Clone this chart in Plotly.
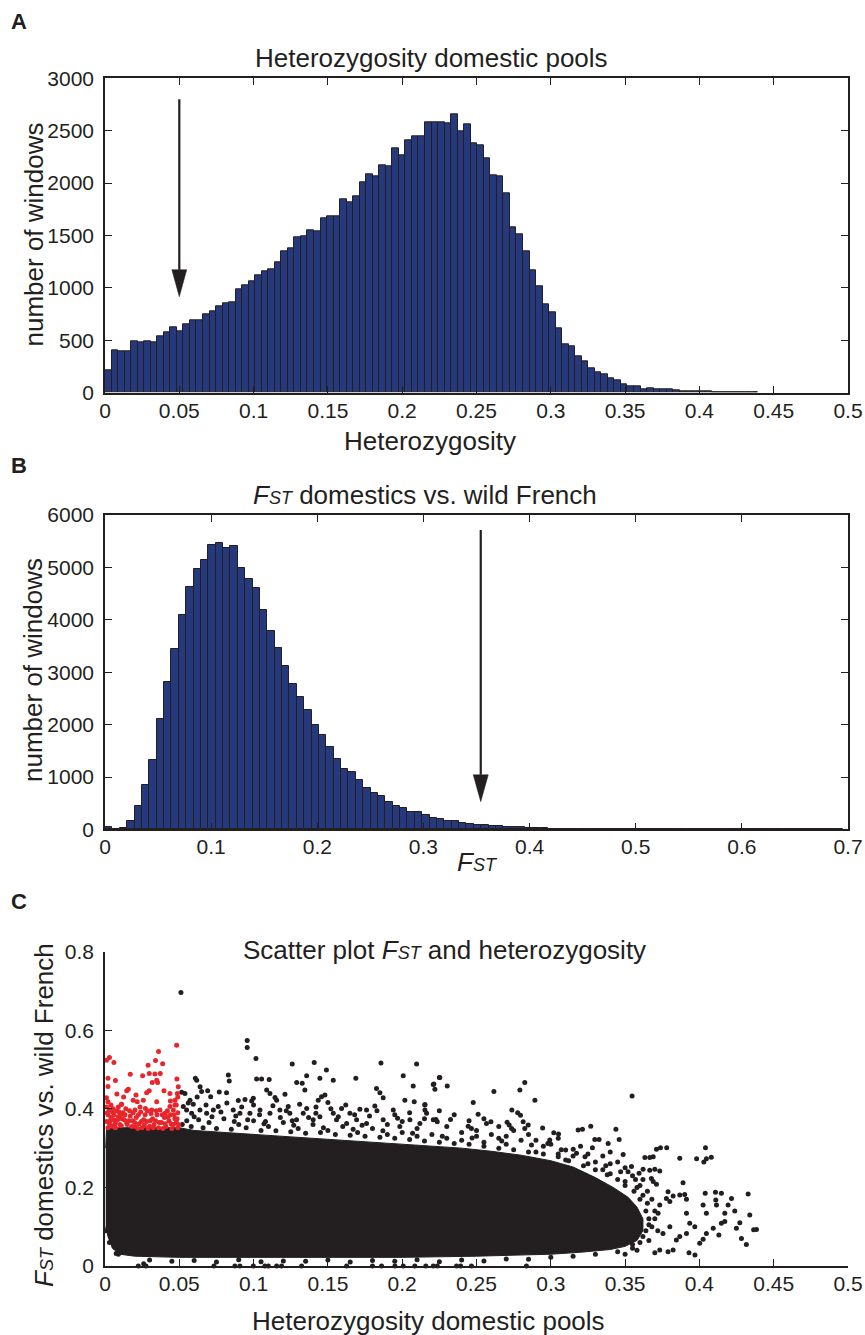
import plotly.graph_objects as go

W, H = 865, 1335
INK = "#231f20"
BAR = "#25397c"
RED = "#e8252b"
FONT = "Liberation Sans, Arial, Helvetica, sans-serif"

# ---- Panel A: heterozygosity of domestic pools (100 bins) ----
het_max = 0.4395
het_counts = [
    210, 404, 395, 398, 490, 481, 493, 481, 541, 576,
    627, 583, 656, 691, 688, 748, 773, 821, 853, 866,
    987, 1025, 1060, 1120, 1157, 1177, 1244, 1349, 1378, 1483,
    1489, 1550, 1543, 1664, 1683, 1680, 1845, 1814, 1871, 2011,
    2084, 2068, 2173, 2161, 2332, 2262, 2406, 2450, 2450, 2581,
    2584, 2581, 2571, 2660, 2495, 2565, 2380, 2358, 2234, 2072,
    2062, 1903, 1582, 1512, 1346, 1171, 1012, 840, 764, 614,
    462, 446, 350, 302, 232, 191, 178, 134, 116, 78,
    65, 59, 36, 43, 30, 30, 31, 22, 18, 13,
    15, 12, 10, 8, 7, 6, 5, 4, 3, 2,
]
het_ticks = [0, 0.05, 0.1, 0.15, 0.2, 0.25, 0.3, 0.35, 0.4, 0.45, 0.5]
het_ticklabels = ["0", "0.05", "0.1", "0.15", "0.2", "0.25", "0.3", "0.35", "0.4", "0.45", "0.5"]
count_ticks_a = [0, 500, 1000, 1500, 2000, 2500, 3000]

# ---- Panel B: FST domestics vs. wild French (100 bins) ----
fst_max = 0.695
fst_counts = [
    50, 14, 30, 157, 446, 854, 1331, 2107, 2813, 3443,
    4092, 4620, 4976, 5135, 5421, 5472, 5364, 5409, 4983, 4779,
    4601, 4194, 3787, 3456, 3112, 2775, 2534, 2273, 2000, 1796,
    1573, 1350, 1153, 1090, 950, 784, 692, 632, 528, 445,
    407, 337, 325, 270, 223, 194, 159, 153, 115, 95,
    76, 76, 64, 57, 45, 38, 38, 32, 25, 19,
    16, 13, 10, 9, 8, 7, 6, 5, 5, 4,
    4, 3, 3, 3, 3, 2, 2, 2, 2, 2,
    2, 2, 1, 1, 1, 1, 1, 1, 1, 1,
    1, 1, 1, 1, 1, 1, 1, 1, 1, 1,
]
fst_ticks = [0, 0.1, 0.2, 0.3, 0.4, 0.5, 0.6, 0.7]
fst_ticklabels = ["0", "0.1", "0.2", "0.3", "0.4", "0.5", "0.6", "0.7"]
count_ticks_b = [0, 1000, 2000, 3000, 4000, 5000, 6000]

# arrows marking thresholds: (x, start count, head base count, tip count)
arrow_a = (0.05, 2800, 1174, 916)
arrow_b = (0.354, 5716, 1042, 529)

# ---- Panel C: heterozygosity vs FST ----
# outline of the saturated core of the cloud (heterozygosity, FST)
core_outline = [
    (0.0005, 0.30), (0.001, 0.35), (0.01, 0.352), (0.03, 0.352), (0.05, 0.352),
    (0.06, 0.345), (0.08, 0.34), (0.10, 0.335), (0.12, 0.33), (0.14, 0.325),
    (0.16, 0.32), (0.18, 0.315), (0.20, 0.31), (0.22, 0.305), (0.24, 0.30),
    (0.26, 0.292), (0.28, 0.282), (0.30, 0.268), (0.315, 0.252), (0.33, 0.225),
    (0.342, 0.20), (0.352, 0.175), (0.358, 0.15), (0.362, 0.12), (0.362, 0.09),
    (0.358, 0.065), (0.35, 0.05), (0.34, 0.042), (0.32, 0.035), (0.30, 0.03),
    (0.25, 0.025), (0.20, 0.022), (0.15, 0.022), (0.10, 0.022), (0.05, 0.022),
    (0.02, 0.025), (0.01, 0.03), (0.005, 0.045), (0.002, 0.075), (0.0005, 0.10),
]

# individual windows outside the saturated core
black_points = [
    (0.0511, 0.696), (0.0957, 0.574), (0.0957, 0.556), (0.1016, 0.528), (0.126, 0.514),
    (0.1408, 0.518), (0.149, 0.499), (0.1446, 0.478), (0.1536, 0.473), (0.1688, 0.478),
    (0.1857, 0.517), (0.2007, 0.484), (0.2097, 0.514), (0.2074, 0.458), (0.2209, 0.462),
    (0.222, 0.45), (0.225, 0.48), (0.1357, 0.484), (0.129, 0.467), (0.1327, 0.465),
    (0.1345, 0.448), (0.1435, 0.422), (0.1457, 0.431), (0.148, 0.435), (0.15, 0.416),
    (0.1827, 0.452), (0.185, 0.441), (0.1872, 0.428), (0.2018, 0.422), (0.2081, 0.418),
    (0.2153, 0.411), (0.0608, 0.478), (0.0617, 0.473), (0.064, 0.456), (0.065, 0.444),
    (0.0691, 0.446), (0.0711, 0.431), (0.0769, 0.443), (0.0818, 0.441), (0.083, 0.486),
    (0.0836, 0.471), (0.0897, 0.421), (0.0942, 0.424), (0.0987, 0.42), (0.0998, 0.427),
    (0.102, 0.476), (0.1054, 0.476), (0.1105, 0.475), (0.1088, 0.448), (0.111, 0.439),
    (0.1144, 0.429), (0.1155, 0.422), (0.1211, 0.437), (0.1233, 0.406), (0.1357, 0.401),
    (0.1419, 0.389), (0.1536, 0.389), (0.1592, 0.401), (0.1648, 0.389), (0.1715, 0.399),
    (0.176, 0.397), (0.1816, 0.407), (0.194, 0.397), (0.1969, 0.376), (0.2052, 0.372),
    (0.2164, 0.389), (0.0516, 0.442), (0.0538, 0.439), (0.0572, 0.422), (0.0527, 0.406),
    (0.0549, 0.397), (0.0594, 0.412), (0.0583, 0.389), (0.0639, 0.397), (0.0684, 0.389),
    (0.0729, 0.397), (0.0762, 0.406), (0.0863, 0.397), (0.0908, 0.389), (0.0975, 0.389),
    (0.1043, 0.397), (0.111, 0.389), (0.1177, 0.397), (0.1244, 0.389), (0.1289, 0.372),
    (0.1334, 0.389), (0.1401, 0.372), (0.1446, 0.38), (0.1558, 0.372), (0.1626, 0.363),
    (0.1693, 0.372), (0.176, 0.363), (0.1872, 0.372), (0.1984, 0.355), (0.2119, 0.363),
    (0.2209, 0.372), (0.2253, 0.48), (0.2213, 0.463), (0.2303, 0.458), (0.2152, 0.41),
    (0.2153, 0.397), (0.2478, 0.416), (0.2617, 0.444), (0.2792, 0.448), (0.2825, 0.467),
    (0.2893, 0.422), (0.3547, 0.433), (0.2511, 0.386), (0.2567, 0.363), (0.2597, 0.367),
    (0.2738, 0.397), (0.2777, 0.39), (0.2796, 0.384), (0.2227, 0.373), (0.2236, 0.367),
    (0.2325, 0.373), (0.2444, 0.356), (0.2466, 0.35), (0.2706, 0.366), (0.272, 0.359),
    (0.2736, 0.35), (0.2814, 0.367), (0.2848, 0.359), (0.2825, 0.35), (0.2945, 0.351),
    (0.302, 0.339), (0.3052, 0.336), (0.298, 0.312), (0.2993, 0.321), (0.3184, 0.346),
    (0.3213, 0.348), (0.3269, 0.356), (0.3296, 0.322), (0.3325, 0.322), (0.3386, 0.312),
    (0.3438, 0.348), (0.346, 0.322), (0.328, 0.301), (0.3151, 0.297), (0.3173, 0.287),
    (0.3487, 0.284), (0.3543, 0.253), (0.3594, 0.236), (0.3621, 0.246), (0.3633, 0.276),
    (0.3666, 0.276), (0.3689, 0.278), (0.3711, 0.297), (0.3738, 0.301), (0.378, 0.301),
    (0.3868, 0.274), (0.3981, 0.273), (0.4041, 0.301), (0.403, 0.265), (0.4047, 0.273),
    (0.408, 0.277), (0.3666, 0.244), (0.37, 0.246), (0.3733, 0.242), (0.3677, 0.223),
    (0.3689, 0.215), (0.3711, 0.208), (0.389, 0.212), (0.3789, 0.189), (0.3778, 0.172),
    (0.3801, 0.164), (0.3823, 0.178), (0.3868, 0.181), (0.3901, 0.182), (0.3913, 0.17),
    (0.4039, 0.185), (0.4108, 0.1875), (0.4148, 0.185), (0.4328, 0.183), (0.4216, 0.172),
    (0.4025, 0.155), (0.4047, 0.134), (0.411, 0.168), (0.4115, 0.155), (0.4171, 0.134),
    (0.4193, 0.155), (0.4238, 0.14), (0.4339, 0.13), (0.4384, 0.093), (0.4365, 0.092),
    (0.4272, 0.11), (0.4249, 0.096), (0.4283, 0.07), (0.4316, 0.055), (0.4148, 0.109),
    (0.4171, 0.113), (0.4131, 0.079), (0.4093, 0.096), (0.4047, 0.083), (0.4025, 0.068),
    (0.4002, 0.058), (0.3913, 0.134), (0.3935, 0.109), (0.3969, 0.1), (0.3913, 0.083),
    (0.3868, 0.075), (0.3845, 0.066), (0.3823, 0.041), (0.3789, 0.036), (0.3733, 0.041),
    (0.37, 0.034), (0.393, 0.034), (0.397, 0.028), (0.3801, 0.1), (0.3755, 0.083),
    (0.3722, 0.134), (0.3733, 0.155), (0.358, 0.2), (0.362, 0.18), (0.365, 0.16),
    (0.366, 0.12), (0.364, 0.09), (0.36, 0.06), (0.368, 0.1), (0.37, 0.14),
    (0.362, 0.22), (0.355, 0.045), (0.345, 0.036), (0.31, 0.27), (0.325, 0.26),
    (0.335, 0.245), (0.34, 0.235), (0.35, 0.215), (0.305, 0.285), (0.29, 0.29),
    (0.27, 0.31), (0.255, 0.315), (0.24, 0.32), (0.23, 0.325), (0.21, 0.33),
    (0.19, 0.335), (0.17, 0.34), (0.15, 0.345), (0.13, 0.35), (0.11, 0.355),
    (0.09, 0.36), (0.07, 0.365), (0.055, 0.37), (0.06, 0.38), (0.08, 0.375),
    (0.1, 0.37), (0.12, 0.365), (0.14, 0.36), (0.16, 0.355), (0.18, 0.35),
    (0.2, 0.34), (0.22, 0.335), (0.25, 0.33), (0.265, 0.325), (0.28, 0.32),
    (0.295, 0.305), (0.315, 0.28), (0.33, 0.265), (0.34, 0.26), (0.352, 0.24),
    (0.357, 0.22),
    (0.052, 0.36), (0.058, 0.355), (0.066, 0.352), (0.075, 0.35), (0.085, 0.348),
    (0.095, 0.352), (0.105, 0.345), (0.115, 0.344), (0.125, 0.342), (0.135, 0.338),
    (0.145, 0.34), (0.155, 0.335), (0.165, 0.333), (0.175, 0.33), (0.185, 0.328),
    (0.195, 0.325), (0.205, 0.322), (0.215, 0.318), (0.225, 0.315), (0.235, 0.312),
    (0.245, 0.31), (0.255, 0.305), (0.265, 0.30), (0.275, 0.296), (0.285, 0.29),
    (0.295, 0.285), (0.305, 0.278), (0.312, 0.268), (0.322, 0.255), (0.33, 0.245),
    (0.338, 0.232), (0.345, 0.22), (0.35, 0.205), (0.356, 0.19), (0.36, 0.17),
    (0.364, 0.14), (0.366, 0.105), (0.362, 0.075), (0.355, 0.055),
    (0.063, 0.372), (0.087, 0.368), (0.107, 0.362), (0.127, 0.358), (0.147, 0.352),
    (0.167, 0.348), (0.187, 0.344), (0.207, 0.338), (0.227, 0.33), (0.247, 0.326),
    (0.267, 0.318), (0.287, 0.308), (0.307, 0.296), (0.323, 0.278), (0.337, 0.255),
    (0.347, 0.24),
    (0.056, 0.415), (0.062, 0.43), (0.068, 0.41), (0.072, 0.38), (0.078, 0.392),
    (0.082, 0.415), (0.088, 0.382), (0.092, 0.405), (0.096, 0.372), (0.10, 0.41),
    (0.104, 0.385), (0.108, 0.368), (0.113, 0.408), (0.118, 0.378), (0.122, 0.395),
    (0.126, 0.37), (0.131, 0.412), (0.137, 0.378), (0.142, 0.405), (0.152, 0.40),
    (0.157, 0.38), (0.162, 0.41), (0.168, 0.385), (0.173, 0.358), (0.178, 0.382),
    (0.183, 0.395), (0.19, 0.36), (0.195, 0.385), (0.20, 0.368), (0.205, 0.39),
    (0.21, 0.35), (0.215, 0.375), (0.225, 0.395), (0.23, 0.355), (0.235, 0.385),
    (0.24, 0.34), (0.245, 0.37), (0.25, 0.345), (0.255, 0.375), (0.26, 0.335),
    (0.265, 0.355), (0.27, 0.33), (0.275, 0.345), (0.285, 0.335), (0.29, 0.32),
    (0.30, 0.31), (0.305, 0.325), (0.31, 0.295), (0.32, 0.305), (0.325, 0.285),
    (0.335, 0.28), (0.34, 0.29), (0.345, 0.265), (0.35, 0.25), (0.355, 0.23),
    (0.36, 0.205), (0.365, 0.19), (0.368, 0.17), (0.37, 0.12), (0.372, 0.09),
    (0.366, 0.065), (0.358, 0.04), (0.35, 0.03),
    (0.03, 0.015), (0.06, 0.014), (0.09, 0.016), (0.12, 0.013), (0.15, 0.015),
    (0.18, 0.014), (0.21, 0.016), (0.24, 0.015), (0.27, 0.018), (0.30, 0.022),
    (0.33, 0.03), (0.045, 0.012), (0.075, 0.01), (0.105, 0.011), (0.135, 0.012),
    (0.165, 0.01), (0.195, 0.012), (0.225, 0.011), (0.255, 0.013), (0.285, 0.017),
    (0.315, 0.025),
    (0.0224, 0.0), (0.0276, 0.0), (0.0733, 0.0), (0.0874, 0.0), (0.0908, 0.0),
    (0.0998, 0.0), (0.1076, 0.0), (0.1099, 0.0), (0.1155, 0.0), (0.1188, 0.0),
    (0.1323, 0.0), (0.1626, 0.0), (0.180, 0.0), (0.1861, 0.0), (0.1951, 0.0),
    (0.2007, 0.0), (0.2085, 0.0), (0.2209, 0.0), (0.2159, 0.0), (0.2236, 0.0),
    (0.2366, 0.0), (0.2393, 0.0), (0.2466, 0.0), (0.2836, 0.0),
    (0.026, 0.006), (0.0075, 0.032), (0.009, 0.03), (0.0005, 0.09), (0.003, 0.06),
]

# windows with low heterozygosity and high FST (highlighted)
red_points = [
    (0.001, 0.524), (0.003, 0.531), (0.006, 0.518), (0.002, 0.478), (0.007, 0.472),
    (0.002, 0.457), (0.008, 0.438), (0.001, 0.428), (0.002, 0.418), (0.001, 0.405),
    (0.003, 0.398), (0.005, 0.392), (0.002, 0.385), (0.004, 0.378), (0.006, 0.372),
    (0.001, 0.368), (0.003, 0.362), (0.005, 0.356), (0.007, 0.352), (0.002, 0.352),
    (0.008, 0.395), (0.009, 0.38), (0.007, 0.365), (0.010, 0.360), (0.006, 0.385),
    (0.004, 0.41), (0.009, 0.405), (0.011, 0.412), (0.012, 0.39), (0.013, 0.372),
    (0.011, 0.357), (0.017, 0.488), (0.0157, 0.45), (0.0146, 0.446), (0.0209, 0.435),
    (0.0253, 0.484), (0.0298, 0.49), (0.029, 0.511), (0.034, 0.523), (0.036, 0.546),
    (0.0388, 0.515), (0.0372, 0.49), (0.0336, 0.489), (0.0318, 0.467), (0.0348, 0.473),
    (0.0354, 0.467), (0.0397, 0.446), (0.0437, 0.439), (0.0482, 0.562), (0.0484, 0.476),
    (0.0493, 0.456), (0.0487, 0.439), (0.0471, 0.422), (0.028, 0.441), (0.0298, 0.446),
    (0.0258, 0.422), (0.0217, 0.418), (0.019, 0.422), (0.0202, 0.397), (0.0236, 0.405),
    (0.0272, 0.401), (0.0314, 0.397), (0.0348, 0.418), (0.037, 0.397), (0.0404, 0.389),
    (0.0437, 0.406), (0.046, 0.397), (0.0112, 0.412), (0.016, 0.37), (0.018, 0.355),
    (0.021, 0.378), (0.023, 0.362), (0.025, 0.352), (0.027, 0.385), (0.028, 0.368),
    (0.030, 0.356), (0.032, 0.375), (0.033, 0.36), (0.035, 0.385), (0.036, 0.352),
    (0.038, 0.365), (0.040, 0.378), (0.041, 0.355), (0.043, 0.37), (0.044, 0.385),
    (0.046, 0.36), (0.047, 0.375), (0.049, 0.352), (0.049, 0.39), (0.019, 0.39),
    (0.024, 0.392), (0.031, 0.388), (0.042, 0.395), (0.015, 0.36), (0.022, 0.35),
    (0.029, 0.35), (0.034, 0.37), (0.045, 0.35), (0.048, 0.365), (0.039, 0.35),
    (0.026, 0.372), (0.020, 0.365), (0.017, 0.382), (0.047, 0.41), (0.044, 0.42),
    (0.049, 0.43), (0.048, 0.41), (0.0125, 0.43), (0.014, 0.40),
    (0.0015, 0.39), (0.0035, 0.37), (0.0055, 0.40), (0.0065, 0.36), (0.0085, 0.372),
    (0.0095, 0.392), (0.0105, 0.385), (0.0115, 0.375), (0.0135, 0.385), (0.0145, 0.365),
    (0.0165, 0.395), (0.0185, 0.37), (0.0205, 0.355), (0.0225, 0.385), (0.0245, 0.368),
    (0.0265, 0.358), (0.0285, 0.395), (0.0305, 0.37), (0.0325, 0.352), (0.0345, 0.395),
    (0.0365, 0.365), (0.0385, 0.385), (0.0405, 0.362), (0.0425, 0.38), (0.0445, 0.362),
    (0.0465, 0.385), (0.0485, 0.375), (0.0495, 0.36),
]
scatter_x_ticks = het_ticks
scatter_y_ticks = [0, 0.2, 0.4, 0.6, 0.8]
scatter_y_labels = ["0", "0.2", "0.4", "0.6", "0.8"]


def px_x(px):
    return px / W


def px_y(py):
    return 1 - py / H


def bin_centers(vmax, n):
    w = vmax / n
    return [(i + 0.5) * w for i in range(n)], w


fig = go.Figure()

hx, hw = bin_centers(het_max, len(het_counts))
fig.add_trace(go.Bar(x=hx, y=het_counts, width=hw, xaxis="x", yaxis="y",
                     marker=dict(color=BAR, line=dict(color=INK, width=1))))

fx, fw = bin_centers(fst_max, len(fst_counts))
fig.add_trace(go.Bar(x=fx, y=fst_counts, width=fw, xaxis="x2", yaxis="y2",
                     marker=dict(color=BAR, line=dict(color=INK, width=1))))

cx = [p[0] for p in core_outline]
cy = [p[1] for p in core_outline]
fig.add_trace(go.Scatter(x=cx, y=cy, fill="toself", fillcolor=INK, mode="lines",
                         line=dict(color=INK, width=1), xaxis="x3", yaxis="y3",
                         hoverinfo="skip"))
fig.add_trace(go.Scatter(x=[p[0] for p in black_points], y=[p[1] for p in black_points],
                         mode="markers", marker=dict(color=INK, size=5, line=dict(width=0)),
                         xaxis="x3", yaxis="y3", cliponaxis=False))
fig.add_trace(go.Scatter(x=[p[0] for p in red_points], y=[p[1] for p in red_points],
                         mode="markers", marker=dict(color=RED, size=5, line=dict(width=0)),
                         xaxis="x3", yaxis="y3", cliponaxis=False))

tickfont = dict(family=FONT, size=21, color=INK)
dom_x = [px_x(105), px_x(848)]
common = dict(ticks="inside", ticklen=7, tickwidth=1.2, tickcolor=INK, showline=True,
              linecolor=INK, linewidth=1.5, showgrid=False, zeroline=False,
              tickfont=tickfont, automargin=False)
xcommon = dict(ticklabelstandoff=-2, **common)
ycommon = dict(ticklabelstandoff=5, **common)

fig.update_layout(
    width=W, height=H, margin=dict(l=0, r=0, t=0, b=0, autoexpand=False),
    paper_bgcolor="white", plot_bgcolor="white", showlegend=False, bargap=0,
    font=dict(family=FONT, color=INK),
    xaxis=dict(domain=dom_x, range=[0, 0.5], tickvals=het_ticks, ticktext=het_ticklabels,
               anchor="y", mirror="ticks", **xcommon),
    yaxis=dict(domain=[px_y(392.7), px_y(78.3)], range=[0, 3000], tickvals=count_ticks_a,
               anchor="x", mirror="ticks", **ycommon),
    xaxis2=dict(domain=dom_x, range=[0, 0.7], tickvals=fst_ticks, ticktext=fst_ticklabels,
                anchor="y2", mirror="ticks", **xcommon),
    yaxis2=dict(domain=[px_y(829.4), px_y(515)], range=[0, 6000], tickvals=count_ticks_b,
                anchor="x2", mirror="ticks", **ycommon),
    xaxis3=dict(domain=dom_x, range=[0, 0.5], tickvals=scatter_x_ticks, ticktext=het_ticklabels,
                anchor="y3", mirror=False, **xcommon),
    yaxis3=dict(domain=[px_y(1266), px_y(951.7)], range=[0, 0.8], tickvals=scatter_y_ticks,
                ticktext=scatter_y_labels, anchor="x3", mirror=False, **ycommon),
)


def arrow(ax, ay, x, y_start, y_base, y_tip, half_w):
    fig.add_shape(type="line", xref=ax, yref=ay, x0=x, x1=x, y0=y_start, y1=y_base,
                  line=dict(color=INK, width=2.2))
    fig.add_shape(type="path", xref=ax, yref=ay,
                  path=f"M {x - half_w},{y_base} L {x + half_w},{y_base} L {x},{y_tip} Z",
                  fillcolor=INK, line=dict(color=INK, width=0.5))


arrow("x", "y", arrow_a[0], arrow_a[1], arrow_a[2], arrow_a[3], 0.005)
arrow("x2", "y2", arrow_b[0], arrow_b[1], arrow_b[2], arrow_b[3], 0.0071)

FST = '<i>F</i><span style="font-size:18px"><i>ST</i></span>'


def label(text, x, y, size=26, xanchor="center", angle=0, bold=False):
    fig.add_annotation(text=f"<b>{text}</b>" if bold else text, xref="paper", yref="paper",
                       x=px_x(x), y=px_y(y), xanchor=xanchor, yanchor="middle",
                       textangle=angle, showarrow=False,
                       font=dict(family=FONT, size=size, color=INK))


# panel letters
label("A", 9, 22, size=22, xanchor="left", bold=True)
label("B", 9, 466, size=22, xanchor="left", bold=True)
label("C", 9, 901, size=22, xanchor="left", bold=True)

# titles
label("Heterozygosity domestic pools", 253, 58, xanchor="left")
label(f"{FST} domestics vs. wild French", 251, 495, xanchor="left")
label(f"Scatter plot {FST} and heterozygosity", 241, 950, xanchor="left")

# axis titles
label("Heterozygosity", 429.5, 441)
label(FST, 478, 862)
label("Heterozygosity domestic pools", 428, 1321)
label("number of windows", 33, 234.5, angle=-90)
label("number of windows", 33, 670, angle=-90)
label(f"{FST} domestics vs. wild French", 44, 1115, angle=-90)

fig.write_html("out.html")
